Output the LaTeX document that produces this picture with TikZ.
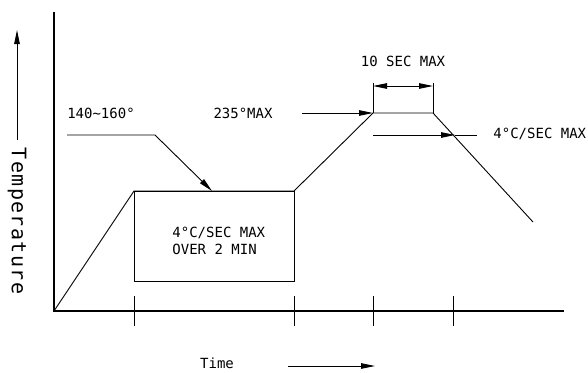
\documentclass[tikz,border=0pt]{standalone}
\usepackage{fontspec}
\setmainfont{DejaVu Sans Mono}
\usetikzlibrary{arrows.meta}

\begin{document}
\begin{tikzpicture}[x=1pt,y=-1pt,line width=0.9pt,
txt/.style={font=\fontsize{14}{17}\selectfont, inner sep=0pt},
pfeil/.style={-{Triangle[length=14pt,width=5.5pt]}},
]
\useasboundingbox (0,0) rectangle (588,372);

% axes
\coordinate (O) at (54,311);
\coordinate (Ytop) at (54,12);
\coordinate (Xend) at (564,311);
\draw[line width=1.2pt] (Ytop) -- (O) -- (Xend);
\foreach \x in {134,294,373,453}
  \draw (\x,296) -- (\x,326);

% profile
\coordinate (P1) at (134,191);
\coordinate (P2) at (294,191);
\coordinate (P3) at (373,113);
\coordinate (P4) at (433,113);
\coordinate (P5) at (533,222);
\coordinate (B) at (294,281);
\draw (O) -- (P1) -- (P2) -- (P3) -- (P4) -- (P5);
\draw (P1) rectangle (B);
\node[txt, anchor=west, align=left] (soak) at (172,241) {4°C/SEC MAX\\OVER 2 MIN};

% 140~160
\node[txt] (pre) at (101,113) {140\textasciitilde160°};
\coordinate (L1) at (67,135);
\coordinate (L2) at (155,135);
\coordinate (L3) at (212,191);
\draw[pfeil] (L1) -- (L2) -- (L3);

% 235 max
\node[txt] (peak) at (243,113) {235°MAX};
\coordinate (M1) at (302,113);
\draw[pfeil] (M1) -- (P3);

% 10 sec
\coordinate (D1) at (373,83);
\coordinate (D2) at (433,83);
\coordinate (Dm) at (403,86);
\draw (P3) -- (D1);
\draw (P4) -- (D2);
\draw[pfeil] (Dm) -- (373,86);
\draw[pfeil] (Dm) -- (433,86);
\node[txt] (dwell) at (403,61) {10 SEC MAX};

% cooling
\coordinate (R1) at (373,135);
\coordinate (R2) at (455,135);
\coordinate (R3) at (477,135);
\draw[pfeil] (R1) -- (R2);
\draw (R2) -- (R3);
\node[txt, anchor=west] (cool) at (493,134) {4°C/SEC MAX};

% axis labels
\node[txt, font=\fontsize{20}{24}\selectfont\addfontfeature{LetterSpace=7}, rotate=-90] (temp) at (17,221) {Temperature};
\coordinate (T1) at (17,140);
\coordinate (T2) at (17,30);
\draw[pfeil] (T1) -- (T2);

\node[txt, anchor=base] (time) at (217,368) {Time};
\coordinate (Z1) at (288,366);
\coordinate (Z2) at (375,366);
\draw[pfeil] (Z1) -- (Z2);

\end{tikzpicture}
\end{document}
